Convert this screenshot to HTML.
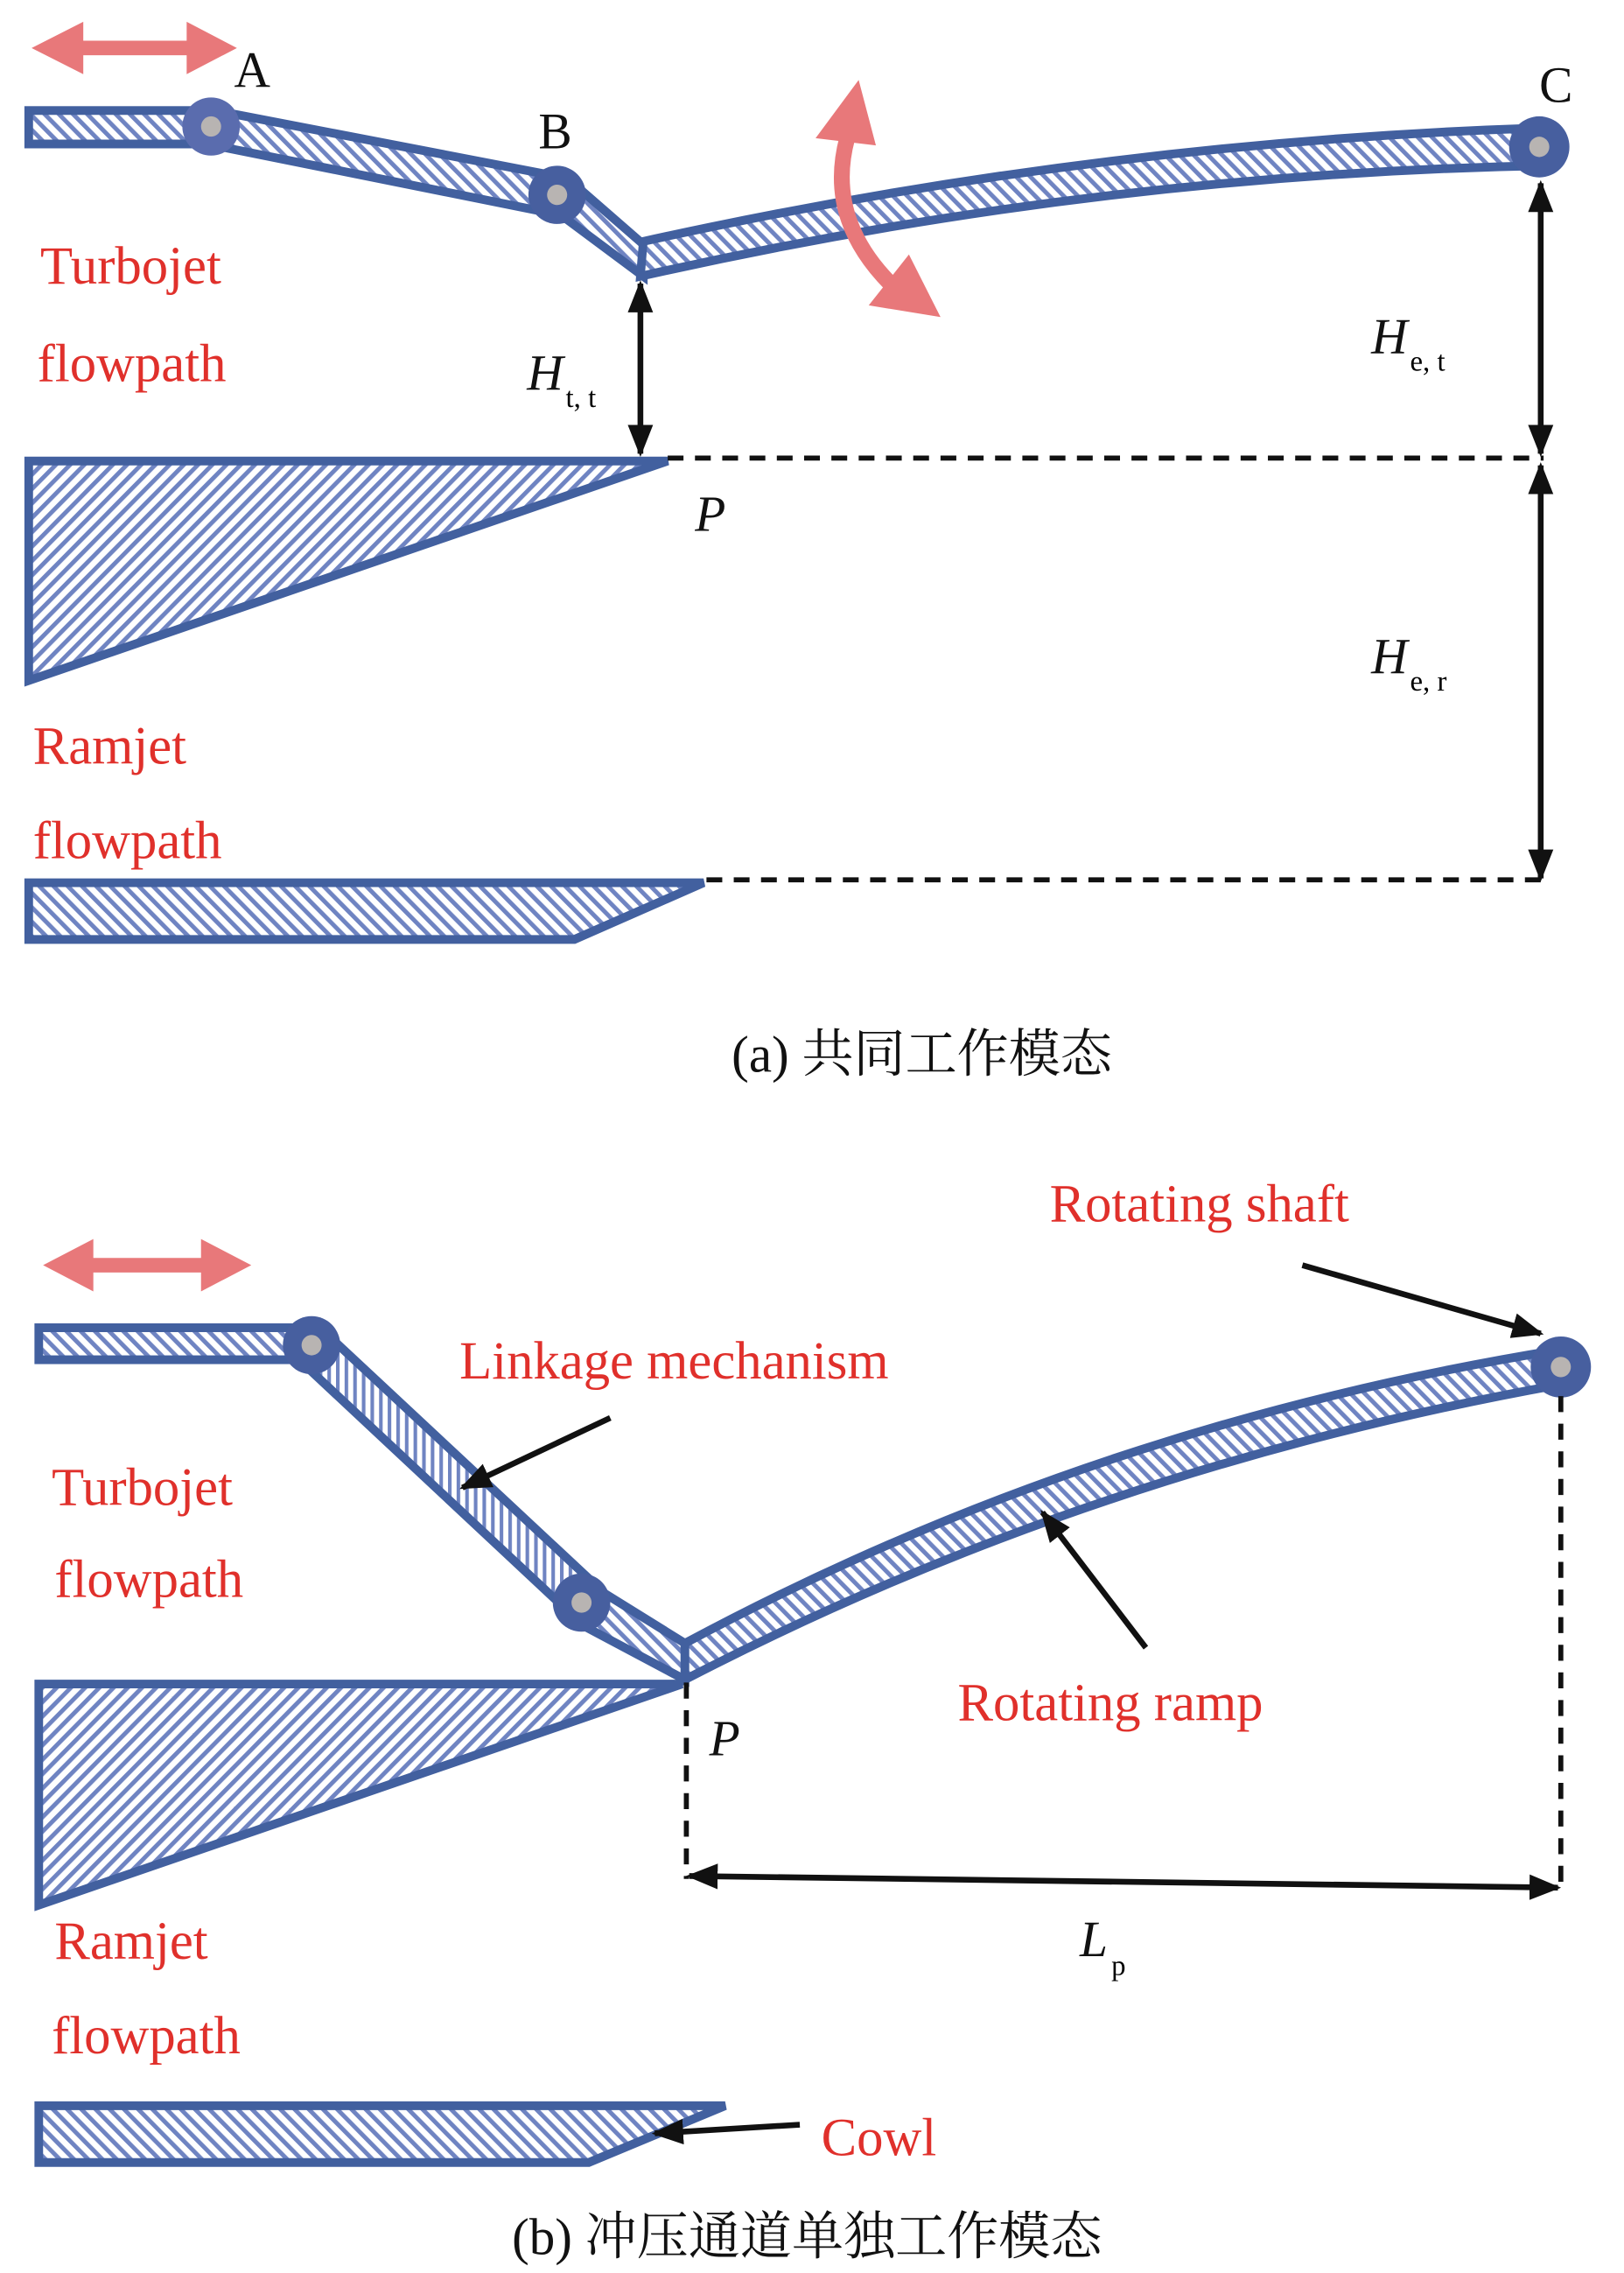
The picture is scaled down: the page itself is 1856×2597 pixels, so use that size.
<!DOCTYPE html>
<html><head><meta charset="utf-8"><style>
html,body{margin:0;padding:0;background:#fff}
svg{display:block}
text{font-family:"Liberation Serif","Noto Serif CJK SC",serif}
.r{fill:#e0302b;font-size:37px}
.k{fill:#111;font-size:35px}
.c{fill:#111;font-size:36px}
</style></head><body>
<svg width="1856" height="2597" viewBox="0 0 1131 1563" preserveAspectRatio="none" xmlns="http://www.w3.org/2000/svg">
<defs>
<pattern id="h" width="7" height="7" patternUnits="userSpaceOnUse" patternTransform="rotate(-45)">
<rect width="7" height="7" fill="#fff"/><rect width="3" height="7" fill="#6f84c2"/></pattern>
<pattern id="h2" width="7" height="7" patternUnits="userSpaceOnUse" patternTransform="rotate(45)">
<rect width="7" height="7" fill="#fff"/><rect width="3" height="7" fill="#6f84c2"/></pattern>
<pattern id="hv" width="6" height="6" patternUnits="userSpaceOnUse">
<rect width="6" height="6" fill="#fff"/><rect width="2.5" height="6" fill="#6f84c2"/></pattern>
<marker id="ah" viewBox="0 0 10 10" refX="9" refY="5" markerWidth="5.5" markerHeight="5.5" orient="auto-start-reverse"><path d="M0,1 L10,5 L0,9 z" fill="#111"/></marker>
</defs>
<g stroke="#42609f" stroke-width="6" stroke-linejoin="miter">
<rect x="20" y="76" width="128" height="23" fill="url(#h)"/>
<polygon points="150,76 392,122 386,147 144,99" fill="url(#h)"/>
<polygon points="398,125 448,168 448,190 380,140" fill="url(#h)"/>
<path d="M448,166 Q760,98 1072,88 L1072,114 Q760,120 446,190 Z" fill="url(#h)"/>
<polygon points="20,317 465,317 20,468" fill="url(#h2)"/>
<polygon points="20,607 490,607 400,646 20,646" fill="url(#h)"/>
<rect x="27" y="913" width="188" height="22" fill="url(#h)"/>
<polygon points="225,915 415,1090 400,1112 205,932" fill="url(#hv)"/>
<polygon points="415,1092 477,1130 477,1155 395,1112" fill="url(#h)"/>
<path d="M477,1130 Q760,980 1087,928 L1087,952 Q760,1010 477,1155 Z" fill="url(#h)"/>
<polygon points="27,1158 475,1158 27,1310" fill="url(#h2)"/>
<polygon points="27,1448 505,1448 410,1487 27,1487" fill="url(#h)"/>
</g>
<g>
<circle cx="147" cy="87" r="20" fill="#5a6cae"/><circle cx="147" cy="87" r="7" fill="#b8b4b2"/>
<circle cx="388" cy="134" r="20" fill="#475f9f"/><circle cx="388" cy="134" r="7" fill="#b8b4b2"/>
<circle cx="1072" cy="101" r="21" fill="#475f9f"/><circle cx="1072" cy="101" r="7" fill="#b8b4b2"/>
<circle cx="217" cy="925" r="20" fill="#475f9f"/><circle cx="217" cy="925" r="7" fill="#b8b4b2"/>
<circle cx="405" cy="1102" r="20" fill="#475f9f"/><circle cx="405" cy="1102" r="7" fill="#b8b4b2"/>
<circle cx="1087" cy="940" r="21" fill="#475f9f"/><circle cx="1087" cy="940" r="7" fill="#b8b4b2"/>
</g>
<polygon points="22,33 58,15 58,28 130,28 130,15 165,33 130,51 130,38 58,38 58,51" fill="#e8787a"/>
<polygon points="30,870 65,852 65,865 140,865 140,852 175,870 140,888 140,875 65,875 65,888" fill="#e8787a"/>
<path d="M590,95 Q575,150 620,195" stroke="#e8787a" stroke-width="11" fill="none"/>
<polygon points="598,55 568,95 610,100" fill="#e8787a"/>
<polygon points="655,218 605,210 633,175" fill="#e8787a"/>
<g stroke="#111" stroke-width="3.5" stroke-dasharray="11,8" fill="none">
<line x1="465" y1="315" x2="1075" y2="315"/>
<line x1="492" y1="605" x2="1075" y2="605"/>
<line x1="478" y1="1157" x2="478" y2="1292"/>
<line x1="1087" y1="960" x2="1087" y2="1298"/>
</g>
<g stroke="#111" stroke-width="4" fill="none" marker-end="url(#ah)" marker-start="url(#ah)">
<line x1="446" y1="195" x2="446" y2="312"/>
<line x1="1073" y1="126" x2="1073" y2="312"/>
<line x1="1073" y1="320" x2="1073" y2="604"/>
<line x1="480" y1="1290" x2="1085" y2="1298"/>
</g>
<g stroke="#111" stroke-width="4" fill="none" marker-end="url(#ah)">
<line x1="907" y1="870" x2="1073" y2="917"/>
<line x1="425" y1="975" x2="322" y2="1023"/>
<line x1="798" y1="1133" x2="726" y2="1040"/>
<line x1="557" y1="1461" x2="456" y2="1467"/>
</g>
<text class="k" x="163" y="60">A</text>
<text class="k" x="375" y="102">B</text>
<text class="k" x="1072" y="70">C</text>
<text class="r" x="28" y="195">Turbojet</text>
<text class="r" x="26" y="262">flowpath</text>
<text class="r" x="23" y="525">Ramjet</text>
<text class="r" x="23" y="590">flowpath</text>
<text class="k" x="367" y="268" font-style="italic">H</text><text x="394" y="280" font-size="20">t, t</text>
<text class="k" x="955" y="243" font-style="italic">H</text><text x="982" y="255" font-size="20">e, t</text>
<text class="k" x="955" y="463" font-style="italic">H</text><text x="982" y="475" font-size="20">e, r</text>
<text class="k" x="484" y="365" font-style="italic">P</text>
<text class="c" x="642" y="737" text-anchor="middle">(a) 共同工作模态</text>
<text class="r" x="731" y="840">Rotating shaft</text>
<text class="r" x="320" y="948">Linkage mechanism</text>
<text class="r" x="36" y="1035">Turbojet</text>
<text class="r" x="38" y="1098">flowpath</text>
<text class="r" x="667" y="1183">Rotating ramp</text>
<text class="r" x="38" y="1347">Ramjet</text>
<text class="r" x="36" y="1412">flowpath</text>
<text class="r" x="572" y="1482">Cowl</text>
<text class="k" x="494" y="1207" font-style="italic">P</text>
<text class="k" x="752" y="1345" font-style="italic">L</text><text x="774" y="1358" font-size="20">p</text>
<text class="c" x="562" y="1550" text-anchor="middle">(b) 冲压通道单独工作模态</text>
</svg>
</body></html>
